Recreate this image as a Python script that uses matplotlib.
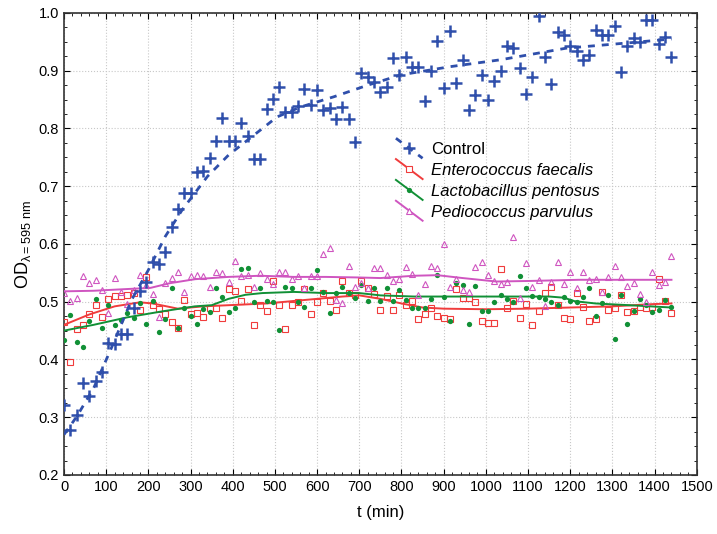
import numpy as np
import matplotlib
matplotlib.use("Agg")
import matplotlib.pyplot as plt
from matplotlib.lines import Line2D
from matplotlib.legend_handler import HandlerLine2D
from matplotlib.ticker import MultipleLocator, FormatStrFormatter

plt.rcParams['font.family'] = ['Liberation Sans', 'DejaVu Sans']
plt.rcParams['mathtext.fontset'] = 'custom'
plt.rcParams['mathtext.rm'] = 'Liberation Sans'

# sampling every 15 min over 24 h
t = np.arange(0, 1441, 15)

control = [0.321, 0.278, 0.304, 0.360, 0.336, 0.362, 0.378, 0.429, 0.427, 0.444,
           0.445, 0.490, 0.519, 0.535, 0.568, 0.565, 0.586, 0.629, 0.660, 0.688,
           0.688, 0.724, 0.727, 0.749, 0.779, 0.819, 0.779, 0.779, 0.809, 0.787,
           0.748, 0.748, 0.833, 0.851, 0.871, 0.829, 0.829, 0.839, 0.868, 0.841,
           0.867, 0.832, 0.836, 0.816, 0.838, 0.816, 0.777, 0.896, 0.889, 0.881,
           0.864, 0.872, 0.922, 0.893, 0.923, 0.907, 0.907, 0.848, 0.900, 0.952,
           0.870, 0.968, 0.878, 0.919, 0.832, 0.858, 0.893, 0.849, 0.883, 0.900,
           0.942, 0.939, 0.905, 0.860, 0.889, 0.995, 0.924, 0.877, 0.967, 0.961,
           0.942, 0.935, 0.919, 0.928, 0.971, 0.962, 0.962, 0.977, 0.897, 0.943,
           0.957, 0.950, 0.987, 0.987, 0.947, 0.959, 0.923]

enterococcus = [0.465, 0.396, 0.453, 0.460, 0.478, 0.494, 0.474, 0.505, 0.510, 0.510,
                0.512, 0.515, 0.486, 0.542, 0.494, 0.487, 0.478, 0.465, 0.455, 0.503,
                0.478, 0.480, 0.474, 0.490, 0.489, 0.471, 0.522, 0.518, 0.502, 0.522,
                0.460, 0.494, 0.484, 0.536, 0.494, 0.453, 0.494, 0.499, 0.522, 0.478,
                0.499, 0.515, 0.501, 0.486, 0.536, 0.515, 0.512, 0.536, 0.523, 0.513,
                0.486, 0.510, 0.486, 0.511, 0.494, 0.501, 0.470, 0.478, 0.490, 0.476,
                0.471, 0.470, 0.522, 0.507, 0.507, 0.500, 0.466, 0.463, 0.463, 0.556,
                0.489, 0.501, 0.472, 0.496, 0.460, 0.484, 0.515, 0.526, 0.494, 0.471,
                0.470, 0.515, 0.491, 0.466, 0.470, 0.517, 0.485, 0.490, 0.511, 0.482,
                0.484, 0.491, 0.490, 0.491, 0.540, 0.501, 0.480]

lactobacillus = [0.434, 0.477, 0.430, 0.421, 0.466, 0.505, 0.455, 0.494, 0.460, 0.468,
                 0.480, 0.471, 0.498, 0.462, 0.501, 0.448, 0.470, 0.523, 0.455, 0.490,
                 0.475, 0.461, 0.488, 0.482, 0.523, 0.509, 0.482, 0.489, 0.557, 0.558,
                 0.499, 0.523, 0.501, 0.499, 0.451, 0.526, 0.523, 0.500, 0.491, 0.523,
                 0.555, 0.516, 0.480, 0.515, 0.526, 0.515, 0.507, 0.529, 0.501, 0.523,
                 0.501, 0.523, 0.501, 0.520, 0.503, 0.490, 0.490, 0.490, 0.505, 0.547,
                 0.509, 0.466, 0.532, 0.529, 0.461, 0.528, 0.484, 0.484, 0.499, 0.511,
                 0.505, 0.499, 0.544, 0.523, 0.510, 0.509, 0.505, 0.499, 0.494, 0.509,
                 0.501, 0.499, 0.509, 0.524, 0.476, 0.497, 0.512, 0.435, 0.511, 0.461,
                 0.484, 0.505, 0.494, 0.482, 0.486, 0.503, 0.491]

pediococcus = [0.515, 0.501, 0.507, 0.545, 0.532, 0.538, 0.520, 0.480, 0.541, 0.517,
               0.496, 0.520, 0.547, 0.529, 0.513, 0.474, 0.532, 0.541, 0.551, 0.516,
               0.544, 0.546, 0.545, 0.526, 0.551, 0.549, 0.535, 0.571, 0.545, 0.546,
               0.526, 0.549, 0.540, 0.530, 0.552, 0.551, 0.539, 0.545, 0.523, 0.545,
               0.545, 0.582, 0.593, 0.503, 0.497, 0.562, 0.526, 0.532, 0.524, 0.559,
               0.558, 0.546, 0.536, 0.540, 0.560, 0.548, 0.512, 0.530, 0.562, 0.559,
               0.600, 0.526, 0.540, 0.520, 0.516, 0.561, 0.568, 0.547, 0.536, 0.530,
               0.534, 0.612, 0.507, 0.567, 0.526, 0.538, 0.493, 0.535, 0.569, 0.530,
               0.551, 0.524, 0.552, 0.538, 0.540, 0.517, 0.542, 0.562, 0.542, 0.528,
               0.532, 0.513, 0.500, 0.551, 0.529, 0.534, 0.579]

# smoothed fits
control_fit_t = [0, 30, 70, 110, 160, 200, 240, 280, 340, 390, 465, 505, 560, 640,
                 720, 800, 915, 1035, 1190, 1350, 1440]
control_fit = [0.270, 0.301, 0.350, 0.416, 0.503, 0.555, 0.613, 0.659, 0.717, 0.754,
               0.797, 0.820, 0.837, 0.855, 0.875, 0.893, 0.907, 0.919, 0.939, 0.949,
               0.955]

enterococcus_fit_t = [0, 60, 120, 180, 210, 270, 330, 420, 480, 540, 600, 660, 700,
                      750, 800, 850, 900, 1000, 1100, 1200, 1300, 1400, 1440]
enterococcus_fit = [0.460, 0.478, 0.492, 0.499, 0.497, 0.488, 0.492, 0.495, 0.497,
                    0.501, 0.505, 0.509, 0.511, 0.505, 0.497, 0.490, 0.488, 0.487,
                    0.488, 0.490, 0.492, 0.496, 0.497]

lactobacillus_fit_t = [0, 70, 150, 230, 310, 350, 390, 430, 470, 545, 620, 700, 750,
                       830, 910, 990, 1070, 1150, 1185, 1210, 1260, 1340, 1440]
lactobacillus_fit = [0.450, 0.460, 0.473, 0.483, 0.492, 0.494, 0.505, 0.512, 0.515,
                     0.517, 0.515, 0.515, 0.511, 0.509, 0.509, 0.509, 0.509, 0.509,
                     0.507, 0.501, 0.497, 0.494, 0.490]

pediococcus_fit_t = [0, 70, 150, 205, 250, 310, 390, 465, 545, 620, 700, 750, 830,
                     885, 945, 1025, 1105, 1220, 1300, 1440]
pediococcus_fit = [0.518, 0.519, 0.522, 0.524, 0.532, 0.539, 0.543, 0.545, 0.543,
                   0.543, 0.542, 0.541, 0.545, 0.546, 0.541, 0.535, 0.536, 0.538,
                   0.538, 0.538]

blue = '#2f4fab'
red = '#f03c3c'
green = '#119036'
pink = '#cf55c0'


class DiagonalHandler(HandlerLine2D):
    """Legend key drawn as a slanted line with the marker in the middle."""

    def create_artists(self, legend, orig_handle, xdescent, ydescent,
                       width, height, fontsize, trans):
        x0, x1 = -xdescent, width - xdescent
        y0, y1 = height - ydescent + 3, -ydescent - 3
        line = Line2D([x0, x1], [y0, y1])
        self.update_prop(line, orig_handle, legend)
        line.set_marker('None')
        mark = Line2D([(x0 + x1) / 2], [(y0 + y1) / 2])
        self.update_prop(mark, orig_handle, legend)
        mark.set_linestyle('None')
        line.set_transform(trans)
        mark.set_transform(trans)
        return [line, mark]


fig = plt.figure(figsize=(7.17, 5.34), dpi=100)
ax = fig.add_axes([0.0893, 0.1105, 0.8825, 0.8652])

ax.plot(t, control, linestyle='None', marker='+', ms=8, mew=1.8, color=blue, zorder=4)
ax.plot(control_fit_t, control_fit, color=blue, lw=2, ls=(0, (2.5, 2.5)), zorder=4)

ax.plot(t, enterococcus, linestyle='None', marker='s', ms=4.5, mfc='none', mew=0.8,
        color=red, zorder=3)
ax.plot(enterococcus_fit_t, enterococcus_fit, color=red, lw=1.4, zorder=3)

ax.plot(t, lactobacillus, linestyle='None', marker='o', ms=3.8, mew=0, color=green,
        zorder=3)
ax.plot(lactobacillus_fit_t, lactobacillus_fit, color=green, lw=1.4, zorder=3)

ax.plot(t, pediococcus, linestyle='None', marker='^', ms=4.5, mfc='none', mew=0.8,
        color=pink, zorder=3)
ax.plot(pediococcus_fit_t, pediococcus_fit, color=pink, lw=1.4, zorder=3)

ax.set_xlim(0, 1500)
ax.set_ylim(0.2, 1.0)
ax.xaxis.set_major_locator(MultipleLocator(100))
ax.xaxis.set_minor_locator(MultipleLocator(20))
ax.yaxis.set_major_locator(MultipleLocator(0.1))
ax.yaxis.set_minor_locator(MultipleLocator(0.025))
ax.yaxis.set_major_formatter(FormatStrFormatter('%.1f'))
ax.tick_params(which='both', direction='in', top=True, right=True, labelsize=10.5)
ax.tick_params(which='major', length=4)
ax.tick_params(which='minor', length=2.5)
ax.grid(True, which='major', color='#c8c8c8', linestyle=':', linewidth=0.8)
ax.set_axisbelow(True)
for s in ax.spines.values():
    s.set_linewidth(1.2)
    s.set_color('#333333')

ax.set_xlabel('t (min)', fontsize=12, labelpad=8)
ax.set_ylabel(r'OD$_{\mathregular{\lambda=595\ nm}}$', fontsize=13, labelpad=4)

handles = [
    Line2D([], [], color=blue, lw=2, ls=(0, (2.5, 2.5)), marker='+', ms=8, mew=1.8),
    Line2D([], [], color=red, lw=1.4, marker='s', ms=4.5, mfc='white', mew=0.8),
    Line2D([], [], color=green, lw=1.4, marker='o', ms=3.8, mew=0),
    Line2D([], [], color=pink, lw=1.4, marker='^', ms=4.5, mfc='white', mew=0.8),
]
labels = ['Control', 'Enterococcus faecalis', 'Lactobacillus pentosus',
          'Pediococcus parvulus']
leg = ax.legend(handles, labels, loc='upper left', bbox_to_anchor=(0.514, 0.735),
                frameon=False, fontsize=12, handlelength=1.6, handletextpad=0.5,
                labelspacing=0.35, borderaxespad=0,
                handler_map={Line2D: DiagonalHandler()})
for txt in leg.get_texts()[1:]:
    txt.set_fontstyle('italic')

fig.savefig('out.png', dpi=100)
